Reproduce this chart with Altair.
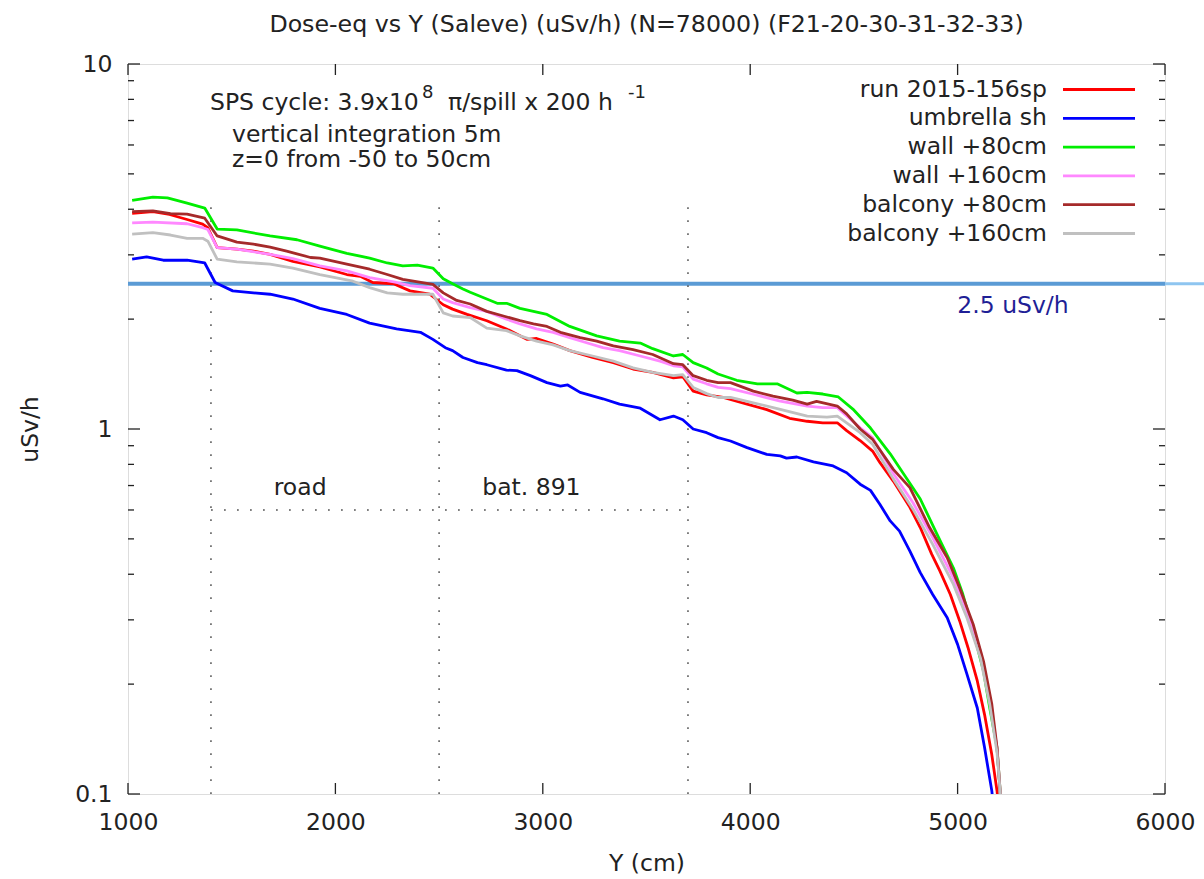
import altair as alt
import pandas as pd

# ---------------- data ----------------
names = ["run 2015-156sp", "umbrella sh", "wall +80cm", "wall +160cm",
         "balcony +80cm", "balcony +160cm"]
colors = ["#ff0000", "#0000ff", "#00ee00", "#ff88ff", "#a52a2a", "#c0c0c0"]

red_x = [1020, 1120, 1200, 1285, 1360, 1385, 1430, 1525, 1605, 1685, 1795, 1925, 2055, 2120,
         2180, 2280, 2360, 2455, 2520, 2565, 2635, 2730, 2825, 2925, 2970, 3050, 3130, 3240,
         3340, 3435, 3530, 3630, 3675, 3725, 3790, 3870, 3985, 4080, 4190, 4275, 4350, 4420,
         4465, 4530, 4590, 4625, 4690, 4770, 4820, 4875, 4915, 4965, 5010, 5050, 5095, 5130,
         5165, 5190, 5200]
red_y = [3.90, 3.94, 3.87, 3.75, 3.64, 3.56, 3.14, 3.11, 3.07, 3.01, 2.88, 2.78, 2.65, 2.62,
         2.52, 2.50, 2.39, 2.34, 2.19, 2.13, 2.06, 1.98, 1.88, 1.76, 1.77, 1.71, 1.64, 1.57,
         1.52, 1.46, 1.43, 1.38, 1.39, 1.27, 1.24, 1.22, 1.17, 1.13, 1.07, 1.05, 1.04, 1.04,
         0.99, 0.93, 0.87, 0.81, 0.72, 0.61, 0.537, 0.454, 0.408, 0.352, 0.298, 0.252, 0.204,
         0.165, 0.128, 0.102, 0.09]

blue_x = [1020, 1090, 1170, 1285, 1370, 1420, 1505, 1605, 1685, 1795, 1925, 2055, 2165, 2295,
          2410, 2470, 2530, 2565, 2615, 2685, 2730, 2825, 2875, 2940, 3020, 3085, 3120, 3180,
          3290, 3370, 3470, 3565, 3630, 3675, 3725, 3790, 3845, 3905, 3985, 4080, 4145, 4175,
          4225, 4305, 4400, 4465, 4530, 4580, 4625, 4675, 4720, 4770, 4820, 4880, 4950, 5000,
          5045, 5095, 5130, 5165, 5175]
blue_y = [2.92, 2.96, 2.90, 2.90, 2.85, 2.52, 2.39, 2.36, 2.34, 2.27, 2.14, 2.06, 1.95, 1.88,
          1.84, 1.76, 1.67, 1.64, 1.57, 1.52, 1.50, 1.45, 1.445, 1.40, 1.34, 1.31, 1.32, 1.26,
          1.21, 1.17, 1.14, 1.06, 1.085, 1.06, 1.00, 0.977, 0.947, 0.927, 0.889, 0.852, 0.844,
          0.832, 0.838, 0.813, 0.792, 0.759, 0.706, 0.679, 0.622, 0.56, 0.525, 0.463, 0.404,
          0.352, 0.304, 0.257, 0.213, 0.172, 0.134, 0.102, 0.09]

green_x = [1020, 1120, 1190, 1285, 1370, 1430, 1525, 1685, 1815, 1925, 2055, 2165, 2250, 2325,
           2395, 2470, 2520, 2565, 2615, 2650, 2780, 2825, 2890, 3020, 3130, 3260, 3370, 3470,
           3530, 3630, 3675, 3725, 3790, 3845, 3935, 4035, 4130, 4225, 4275, 4350, 4425, 4495,
           4580, 4675, 4740, 4785, 4820, 4900, 4980, 5025, 5075, 5125, 5155, 5190, 5205, 5212]
green_y = [4.23, 4.32, 4.30, 4.16, 4.03, 3.53, 3.51, 3.38, 3.30, 3.17, 3.03, 2.94, 2.85, 2.80,
           2.81, 2.76, 2.58, 2.50, 2.42, 2.37, 2.21, 2.21, 2.14, 2.06, 1.91, 1.80, 1.74, 1.72,
           1.66, 1.585, 1.60, 1.52, 1.47, 1.415, 1.36, 1.33, 1.33, 1.255, 1.26, 1.247, 1.224,
           1.134, 1.006, 0.855, 0.753, 0.689, 0.643, 0.516, 0.416, 0.353, 0.28, 0.217, 0.172,
           0.134, 0.102, 0.09]

pink_x = [1020, 1120, 1285, 1360, 1385, 1430, 1525, 1685, 1795, 1925, 2055, 2165, 2295, 2360,
          2470, 2520, 2565, 2650, 2730, 2825, 2890, 2970, 3050, 3130, 3215, 3290, 3370, 3470,
          3565, 3630, 3675, 3725, 3790, 3845, 3905, 4015, 4145, 4275, 4350, 4420, 4465, 4530,
          4590, 4690, 4785, 4880, 4980, 5045, 5110, 5155, 5190, 5205, 5212]
pink_y = [3.67, 3.69, 3.65, 3.56, 3.52, 3.14, 3.11, 3.01, 2.93, 2.80, 2.71, 2.60, 2.52, 2.47,
          2.43, 2.27, 2.22, 2.15, 2.10, 2.00, 1.94, 1.88, 1.84, 1.78, 1.72, 1.67, 1.64, 1.585,
          1.535, 1.49, 1.48, 1.37, 1.33, 1.30, 1.29, 1.245, 1.193, 1.156, 1.144, 1.144, 1.085,
          1.008, 0.947, 0.755, 0.628, 0.504, 0.391, 0.317, 0.246, 0.184, 0.134, 0.102, 0.09]

brown_x = [1020, 1120, 1205, 1285, 1370, 1430, 1525, 1605, 1685, 1765, 1880, 1925, 2055, 2165,
           2250, 2325, 2470, 2520, 2585, 2650, 2730, 2810, 2890, 2955, 3020, 3085, 3180, 3260,
           3340, 3435, 3530, 3630, 3675, 3725, 3790, 3845, 3905, 4015, 4110, 4205, 4275, 4320,
           4420, 4465, 4530, 4590, 4690, 4770, 4865, 4950, 5010, 5075, 5125, 5165, 5190, 5205,
           5212]
brown_y = [3.94, 3.96, 3.89, 3.88, 3.78, 3.38, 3.25, 3.21, 3.15, 3.07, 2.95, 2.94, 2.83, 2.74,
           2.65, 2.57, 2.49, 2.36, 2.25, 2.20, 2.10, 2.04, 1.98, 1.94, 1.91, 1.84, 1.78, 1.74,
           1.69, 1.65, 1.60, 1.51, 1.50, 1.40, 1.36, 1.34, 1.34, 1.27, 1.23, 1.20, 1.17, 1.19,
           1.156, 1.10, 1.00, 0.937, 0.775, 0.691, 0.537, 0.444, 0.367, 0.292, 0.231, 0.176,
           0.134, 0.102, 0.09]

grey_x = [1020, 1120, 1205, 1285, 1360, 1385, 1430, 1525, 1685, 1795, 1925, 2085, 2165, 2250,
          2325, 2470, 2520, 2565, 2650, 2730, 2825, 2890, 2970, 3050, 3130, 3240, 3340, 3435,
          3530, 3630, 3675, 3725, 3790, 3845, 3905, 4015, 4145, 4275, 4370, 4420, 4465, 4530,
          4590, 4690, 4785, 4880, 4980, 5045, 5110, 5155, 5190, 5205, 5212]
grey_y = [3.42, 3.45, 3.40, 3.33, 3.33, 3.27, 2.92, 2.87, 2.83, 2.76, 2.65, 2.54, 2.44, 2.36,
          2.34, 2.34, 2.08, 2.04, 2.02, 1.89, 1.86, 1.80, 1.74, 1.70, 1.64, 1.585, 1.535, 1.47,
          1.43, 1.40, 1.41, 1.30, 1.25, 1.22, 1.22, 1.18, 1.132, 1.085, 1.078, 1.085, 1.04,
          0.977, 0.908, 0.73, 0.603, 0.483, 0.375, 0.304, 0.236, 0.176, 0.13, 0.102, 0.09]

series_x = [red_x, blue_x, green_x, pink_x, brown_x, grey_x]
series_y = [red_y, blue_y, green_y, pink_y, brown_y, grey_y]

zone_bounds = [1400, 2500, 3700]
zone_top = 4.1
zone_level = 0.6
zone_names = ["road", "bat. 891"]
zone_label_x = [1830, 2945]
zone_label_y = 0.66

limit_value = 2.5
limit_label = "2.5 uSv/h"
limit_label_x = 5267
limit_label_y = 2.075

x_ticks = [1000, 2000, 3000, 4000, 5000, 6000]
y_major = [0.1, 1, 10]
y_minor = [0.2, 0.3, 0.4, 0.5, 0.6, 0.7, 0.8, 0.9, 2, 3, 4, 5, 6, 7, 8, 9]

title = "Dose-eq vs Y (Saleve) (uSv/h) (N=78000) (F21-20-30-31-32-33)"

# ---------------- layout ----------------
W, H = 1037, 730
FONT = "DejaVu Sans"
FS = 23.5
INK = "#222222"

xs = alt.Scale(type="linear", domain=[1000, 6000], nice=False, zero=False)
ys = alt.Scale(type="log", domain=[0.1, 10], nice=False)
xaxis = alt.Axis(values=x_ticks, grid=False, ticks=False, tickSize=0, domain=False,
                 labelFlush=False, labelOverlap=False,
                 labelFont=FONT, labelFontSize=FS, labelColor=INK, labelPadding=16,
                 titleFont=FONT, titleFontSize=FS, titleFontWeight="normal",
                 titleColor=INK, titlePadding=18, format="d")
yaxis = alt.Axis(values=y_major, grid=False, ticks=False, tickSize=0, domain=False,
                 labelFlush=False, labelOverlap=False,
                 labelFont=FONT, labelFontSize=FS, labelColor=INK, labelPadding=16,
                 titleFont=FONT, titleFontSize=FS, titleFontWeight="normal",
                 titleColor=INK, titlePadding=32, format="~g")


def X(field):
    return alt.X(field, type="quantitative", scale=xs, axis=xaxis, title="Y (cm)")


def Y(field):
    return alt.Y(field, type="quantitative", scale=ys, axis=yaxis, title="uSv/h")


layers = []

# limit line extended past the frame (lighter), then the in-frame part
limit_df = pd.DataFrame({"yv": [limit_value]})
layers.append(alt.Chart(limit_df).mark_rule(color="#8ec5f0", strokeWidth=3).encode(
    y=Y("yv"), x=alt.value(W - 2), x2=alt.value(W + 39)))
layers.append(alt.Chart(limit_df).mark_rule(color="#5b9bd5", strokeWidth=4).encode(
    y=Y("yv"), x=alt.value(0), x2=alt.value(W)))

# dotted zone markers
dot = dict(color="#555555", strokeWidth=1.5, strokeDash=[1.8, 11.2])
vdf = pd.DataFrame({"xv": zone_bounds, "y0": [0.1] * 3, "y1": [zone_top] * 3})
layers.append(alt.Chart(vdf).mark_rule(**dot).encode(x=X("xv"), y=Y("y0"), y2="y1"))
hdf = pd.DataFrame({"x0": [zone_bounds[0]], "x1": [zone_bounds[-1]], "yv": [zone_level]})
layers.append(alt.Chart(hdf).mark_rule(**dot).encode(x=X("x0"), x2="x1", y=Y("yv")))

# series
for nm, col, sx, sy in zip(names, colors, series_x, series_y):
    df = pd.DataFrame({"x": sx, "y": sy, "name": nm})
    layers.append(alt.Chart(df).mark_line(color=col, strokeWidth=2.8, clip=True,
                                          strokeJoin="round").encode(
        x=X("x"), y=Y("y"), order="x:Q"))

# tick marks (inside, mirrored)
txdf = pd.DataFrame({"tx": x_ticks})
tk = dict(color=INK, strokeWidth=1.3)
layers.append(alt.Chart(txdf).mark_rule(**tk).encode(x=X("tx"), y=alt.value(H), y2=alt.value(H - 11)))
layers.append(alt.Chart(txdf).mark_rule(**tk).encode(x=X("tx"), y=alt.value(0), y2=alt.value(11)))
ymaj = pd.DataFrame({"ty": y_major})
ymin = pd.DataFrame({"ty": y_minor})
layers.append(alt.Chart(ymaj).mark_rule(**tk).encode(y=Y("ty"), x=alt.value(0), x2=alt.value(12)))
layers.append(alt.Chart(ymaj).mark_rule(**tk).encode(y=Y("ty"), x=alt.value(W - 12), x2=alt.value(W)))
layers.append(alt.Chart(ymin).mark_rule(**tk).encode(y=Y("ty"), x=alt.value(0), x2=alt.value(6)))
layers.append(alt.Chart(ymin).mark_rule(**tk).encode(y=Y("ty"), x=alt.value(W - 6), x2=alt.value(W)))

# zone labels and limit label
zdf = pd.DataFrame({"xv": zone_label_x, "yv": [zone_label_y] * 2, "t": zone_names})
layers.append(alt.Chart(zdf).mark_text(font=FONT, fontSize=FS, color=INK, align="center",
                                       baseline="alphabetic").encode(
    x=X("xv"), y=Y("yv"), text="t:N"))
ldf = pd.DataFrame({"xv": [limit_label_x], "yv": [limit_label_y], "t": [limit_label]})
layers.append(alt.Chart(ldf).mark_text(font=FONT, fontSize=FS, color="#1f1f96", align="center",
                                       baseline="alphabetic").encode(
    x=X("xv"), y=Y("yv"), text="t:N"))

# title and info text (pixel-placed annotations), with superscripts
info = pd.DataFrame({
    "t": [title, "SPS cycle: 3.9x10", "8", "\u03c0/spill x 200 h", "-1",
          "vertical integration 5m", "z=0 from -50 to 50cm"],
    "px": [W / 2, 82, 294, 320, 500, 104, 104],
    "py": [-32, 46, 34, 46, 34, 78, 103],
    "fs": [23.7, FS, 18, FS, 18, FS, FS],
    "al": ["center", "left", "left", "left", "left", "left", "left"],
})
for al in ["center", "left"]:
    layers.append(alt.Chart(info[info["al"] == al]).mark_text(
        font=FONT, color=INK, align=al, baseline="alphabetic").encode(
        x=alt.X("px:Q", scale=None), y=alt.Y("py:Q", scale=None), text="t:N",
        size=alt.Size("fs:Q", scale=None, legend=None)))

# manual legend (label left, sample line right)
leg = pd.DataFrame({"name": names, "col": colors,
                    "ly": [25.5 + 28.8 * i for i in range(len(names))]})
layers.append(alt.Chart(leg).mark_text(font=FONT, fontSize=FS, color=INK, align="right",
                                       baseline="middle").encode(
    x=alt.value(919), y=alt.Y("ly:Q", scale=None), text="name:N"))
layers.append(alt.Chart(leg).mark_rule(strokeWidth=2.8).encode(
    x=alt.value(935), x2=alt.value(1007), y=alt.Y("ly:Q", scale=None),
    color=alt.Color("col:N", scale=None, legend=None)))

chart = alt.layer(*layers).properties(
    width=W, height=H,
    autosize=alt.AutoSizeParams(type="none"),
    padding={"left": 128, "top": 64, "right": 39, "bottom": 85},
).configure_view(stroke=INK, strokeWidth=1.5).configure(background="white")

chart.save("out.html", embed_options={"renderer": "svg", "actions": False})
